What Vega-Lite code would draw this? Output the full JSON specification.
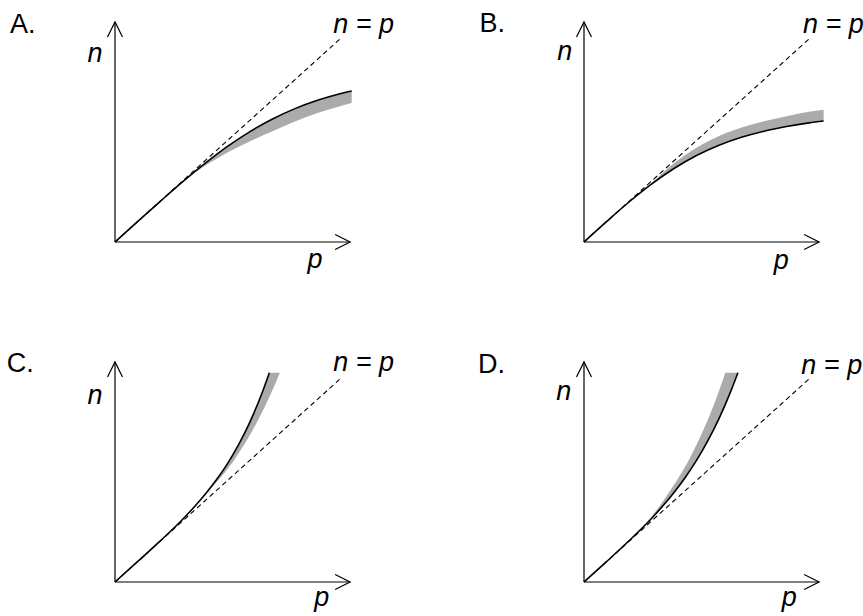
{
"$schema":"https://vega.github.io/schema/vega-lite/v6.json",
"padding":0,
"background":"white",
"datasets":{
"A":[
{"series":"diag","p":0,"n":0},{"series":"diag","p":1,"n":1},
{"series":"curve","p":0,"n":0},{"series":"curve","p":0.1,"n":0.1},{"series":"curve","p":0.2,"n":0.199},{"series":"curve","p":0.3,"n":0.296},{"series":"curve","p":0.4,"n":0.387},{"series":"curve","p":0.5,"n":0.471},{"series":"curve","p":0.6,"n":0.544},{"series":"curve","p":0.7,"n":0.606},{"series":"curve","p":0.8,"n":0.657},{"series":"curve","p":0.9,"n":0.698},{"series":"curve","p":1.0,"n":0.73},{"series":"curve","p":1.052,"n":0.744},
{"series":"band","p":0.3,"n":0.296,"n2":0.296},{"series":"band","p":0.4,"n":0.387,"n2":0.375},{"series":"band","p":0.5,"n":0.471,"n2":0.441},{"series":"band","p":0.6,"n":0.544,"n2":0.496},{"series":"band","p":0.7,"n":0.606,"n2":0.546},{"series":"band","p":0.8,"n":0.657,"n2":0.593},{"series":"band","p":0.9,"n":0.698,"n2":0.635},{"series":"band","p":1.0,"n":0.73,"n2":0.669},{"series":"band","p":1.052,"n":0.744,"n2":0.685}
],
"B":[
{"series":"diag","p":0,"n":0},{"series":"diag","p":1,"n":1},
{"series":"curve","p":0,"n":0},{"series":"curve","p":0.1,"n":0.1},{"series":"curve","p":0.2,"n":0.197},{"series":"curve","p":0.3,"n":0.285},{"series":"curve","p":0.4,"n":0.362},{"series":"curve","p":0.5,"n":0.426},{"series":"curve","p":0.6,"n":0.477},{"series":"curve","p":0.7,"n":0.516},{"series":"curve","p":0.8,"n":0.546},{"series":"curve","p":0.9,"n":0.569},{"series":"curve","p":1.0,"n":0.587},{"series":"curve","p":1.065,"n":0.596},
{"series":"band","p":0.25,"n":0.242,"n2":0.242},{"series":"band","p":0.3,"n":0.285,"n2":0.291},{"series":"band","p":0.4,"n":0.362,"n2":0.388},{"series":"band","p":0.5,"n":0.426,"n2":0.464},{"series":"band","p":0.6,"n":0.477,"n2":0.522},{"series":"band","p":0.7,"n":0.516,"n2":0.564},{"series":"band","p":0.8,"n":0.546,"n2":0.595},{"series":"band","p":0.9,"n":0.569,"n2":0.62},{"series":"band","p":1.0,"n":0.587,"n2":0.641},{"series":"band","p":1.065,"n":0.596,"n2":0.652}
],
"C":[
{"series":"diag","p":0,"n":0},{"series":"diag","p":1,"n":1},
{"series":"curve","p":0,"n":0},{"series":"curve","p":0.1,"n":0.1},{"series":"curve","p":0.2,"n":0.201},{"series":"curve","p":0.3,"n":0.308},{"series":"curve","p":0.35,"n":0.367},{"series":"curve","p":0.4,"n":0.431},{"series":"curve","p":0.45,"n":0.502},{"series":"curve","p":0.5,"n":0.583},{"series":"curve","p":0.55,"n":0.678},{"series":"curve","p":0.6,"n":0.789},{"series":"curve","p":0.65,"n":0.921},{"series":"curve","p":0.686,"n":1.031},
{"series":"band","n":0.404,"p":0.38,"p2":0.38},{"series":"band","n":0.502,"p":0.45,"p2":0.46},{"series":"band","n":0.583,"p":0.5,"p2":0.518},{"series":"band","n":0.678,"p":0.55,"p2":0.575},{"series":"band","n":0.789,"p":0.6,"p2":0.632},{"series":"band","n":0.921,"p":0.65,"p2":0.69},{"series":"band","n":1.031,"p":0.686,"p2":0.733}
],
"D":[
{"series":"diag","p":0,"n":0},{"series":"diag","p":1,"n":1},
{"series":"curve","p":0,"n":0},{"series":"curve","p":0.1,"n":0.1},{"series":"curve","p":0.2,"n":0.203},{"series":"curve","p":0.3,"n":0.313},{"series":"curve","p":0.35,"n":0.374},{"series":"curve","p":0.4,"n":0.441},{"series":"curve","p":0.45,"n":0.515},{"series":"curve","p":0.5,"n":0.599},{"series":"curve","p":0.55,"n":0.695},{"series":"curve","p":0.6,"n":0.805},{"series":"curve","p":0.65,"n":0.933},{"series":"curve","p":0.684,"n":1.031},
{"series":"band","n":0.279,"p":0.27,"p2":0.27},{"series":"band","n":0.374,"p":0.35,"p2":0.336},{"series":"band","n":0.47,"p":0.42,"p2":0.395},{"series":"band","n":0.599,"p":0.5,"p2":0.465},{"series":"band","n":0.716,"p":0.56,"p2":0.517},{"series":"band","n":0.88,"p":0.63,"p2":0.58},{"series":"band","n":1.031,"p":0.684,"p2":0.628}
]
},
"columns":2,
"spacing":{"row":64,"column":75},
"bounds":"flush",
"concat":[
{
"width":394,"height":276,
"data":{"name":"A"},
"layer":[
{"transform":[{"filter":"datum.series === 'band'"}],"mark":{"type":"area","color":"#ababab","opacity":1,"interpolate":"monotone"},"encoding":{"x":{"field":"p","type":"quantitative","scale":{"domain":[-0.5111,1.24],"nice":false,"zero":false}},"y":{"field":"n","type":"quantitative","scale":{"domain":[-0.1675,1.1921],"nice":false,"zero":false}},"y2":{"field":"n2"}}},
{"transform":[{"filter":"datum.series === 'diag'"}],"mark":{"type":"line","color":"#000","strokeWidth":1.1,"strokeDash":[5,3.5]},"encoding":{"x":{"field":"p","type":"quantitative"},"y":{"field":"n","type":"quantitative"}}},
{"transform":[{"filter":"datum.series === 'curve'"}],"mark":{"type":"line","color":"#000","strokeWidth":1.6,"interpolate":"monotone"},"encoding":{"x":{"field":"p","type":"quantitative"},"y":{"field":"n","type":"quantitative"}}},
{"data":{"values":[{}]},"mark":{"type":"rule","color":"#000","strokeWidth":1.2},"encoding":{"x":{"datum":0},"y":{"datum":0},"x2":{"datum":1.045},"y2":{"datum":0}}},
{"data":{"values":[{}]},"mark":{"type":"rule","color":"#000","strokeWidth":1.2},"encoding":{"x":{"datum":0},"y":{"datum":0},"x2":{"datum":0},"y2":{"datum":1.084}}},
{"data":{"values":[{}]},"mark":{"type":"point","shape":"M-2,-1L0,0L-2,1","size":225,"filled":false,"color":"#000","strokeWidth":1.2,"opacity":1},"encoding":{"x":{"datum":1.045},"y":{"datum":0}}},
{"data":{"values":[{}]},"mark":{"type":"point","shape":"M-1,2L0,0L1,2","size":225,"filled":false,"color":"#000","strokeWidth":1.2,"opacity":1},"encoding":{"x":{"datum":0},"y":{"datum":1.084}}},
{"data":{"values":[{"label":"A."}]},"mark":{"type":"text","align":"left"},"encoding":{"text":{"field":"label"},"x":{"datum":-0.467},"y":{"datum":1.032}}},
{"data":{"values":[{"label":"n"}]},"mark":{"type":"text","align":"center","fontStyle":"italic"},"encoding":{"text":{"field":"label"},"x":{"datum":-0.089},"y":{"datum":0.887}}},
{"data":{"values":[{"label":"n = p"}]},"mark":{"type":"text","align":"left","fontStyle":"italic","clip":true},"encoding":{"text":{"field":"label"},"x":{"datum":0.970},"y":{"datum":1.028}}},
{"data":{"values":[{"label":"p"}]},"mark":{"type":"text","align":"center","fontStyle":"italic"},"encoding":{"text":{"field":"label"},"x":{"datum":0.889},"y":{"datum":-0.126}}}
]
},
{
"width":394,"height":276,
"data":{"name":"B"},
"layer":[
{"transform":[{"filter":"datum.series === 'band'"}],"mark":{"type":"area","color":"#ababab","opacity":1,"interpolate":"monotone"},"encoding":{"x":{"field":"p","type":"quantitative","scale":{"domain":[-0.5111,1.24],"nice":false,"zero":false}},"y":{"field":"n","type":"quantitative","scale":{"domain":[-0.1675,1.1921],"nice":false,"zero":false}},"y2":{"field":"n2"}}},
{"transform":[{"filter":"datum.series === 'diag'"}],"mark":{"type":"line","color":"#000","strokeWidth":1.1,"strokeDash":[5,3.5]},"encoding":{"x":{"field":"p","type":"quantitative"},"y":{"field":"n","type":"quantitative"}}},
{"transform":[{"filter":"datum.series === 'curve'"}],"mark":{"type":"line","color":"#000","strokeWidth":1.6,"interpolate":"monotone"},"encoding":{"x":{"field":"p","type":"quantitative"},"y":{"field":"n","type":"quantitative"}}},
{"data":{"values":[{}]},"mark":{"type":"rule","color":"#000","strokeWidth":1.2},"encoding":{"x":{"datum":0},"y":{"datum":0},"x2":{"datum":1.045},"y2":{"datum":0}}},
{"data":{"values":[{}]},"mark":{"type":"rule","color":"#000","strokeWidth":1.2},"encoding":{"x":{"datum":0},"y":{"datum":0},"x2":{"datum":0},"y2":{"datum":1.084}}},
{"data":{"values":[{}]},"mark":{"type":"point","shape":"M-2,-1L0,0L-2,1","size":225,"filled":false,"color":"#000","strokeWidth":1.2,"opacity":1},"encoding":{"x":{"datum":1.045},"y":{"datum":0}}},
{"data":{"values":[{}]},"mark":{"type":"point","shape":"M-1,2L0,0L1,2","size":225,"filled":false,"color":"#000","strokeWidth":1.2,"opacity":1},"encoding":{"x":{"datum":0},"y":{"datum":1.084}}},
{"data":{"values":[{"label":"B."}]},"mark":{"type":"text","align":"left"},"encoding":{"text":{"field":"label"},"x":{"datum":-0.464},"y":{"datum":1.034}}},
{"data":{"values":[{"label":"n"}]},"mark":{"type":"text","align":"center","fontStyle":"italic"},"encoding":{"text":{"field":"label"},"x":{"datum":-0.086},"y":{"datum":0.895}}},
{"data":{"values":[{"label":"n = p"}]},"mark":{"type":"text","align":"left","fontStyle":"italic","clip":true},"encoding":{"text":{"field":"label"},"x":{"datum":0.973},"y":{"datum":1.028}}},
{"data":{"values":[{"label":"p"}]},"mark":{"type":"text","align":"center","fontStyle":"italic"},"encoding":{"text":{"field":"label"},"x":{"datum":0.877},"y":{"datum":-0.134}}}
]
},
{
"width":394,"height":276,
"data":{"name":"C"},
"layer":[
{"transform":[{"filter":"datum.series === 'band'"}],"mark":{"type":"area","orient":"horizontal","color":"#ababab","opacity":1,"interpolate":"monotone"},"encoding":{"x":{"field":"p","type":"quantitative","scale":{"domain":[-0.5111,1.24],"nice":false,"zero":false}},"y":{"field":"n","type":"quantitative","scale":{"domain":[-0.1675,1.1921],"nice":false,"zero":false}},"x2":{"field":"p2"}}},
{"transform":[{"filter":"datum.series === 'diag'"}],"mark":{"type":"line","color":"#000","strokeWidth":1.1,"strokeDash":[5,3.5]},"encoding":{"x":{"field":"p","type":"quantitative"},"y":{"field":"n","type":"quantitative"}}},
{"transform":[{"filter":"datum.series === 'curve'"}],"mark":{"type":"line","color":"#000","strokeWidth":1.6,"interpolate":"monotone"},"encoding":{"x":{"field":"p","type":"quantitative"},"y":{"field":"n","type":"quantitative"}}},
{"data":{"values":[{}]},"mark":{"type":"rule","color":"#000","strokeWidth":1.2},"encoding":{"x":{"datum":0},"y":{"datum":0},"x2":{"datum":1.045},"y2":{"datum":0}}},
{"data":{"values":[{}]},"mark":{"type":"rule","color":"#000","strokeWidth":1.2},"encoding":{"x":{"datum":0},"y":{"datum":0},"x2":{"datum":0},"y2":{"datum":1.084}}},
{"data":{"values":[{}]},"mark":{"type":"point","shape":"M-2,-1L0,0L-2,1","size":225,"filled":false,"color":"#000","strokeWidth":1.2,"opacity":1},"encoding":{"x":{"datum":1.045},"y":{"datum":0}}},
{"data":{"values":[{}]},"mark":{"type":"point","shape":"M-1,2L0,0L1,2","size":225,"filled":false,"color":"#000","strokeWidth":1.2,"opacity":1},"encoding":{"x":{"datum":0},"y":{"datum":1.084}}},
{"data":{"values":[{"label":"C."}]},"mark":{"type":"text","align":"left"},"encoding":{"text":{"field":"label"},"x":{"datum":-0.481},"y":{"datum":1.035}}},
{"data":{"values":[{"label":"n"}]},"mark":{"type":"text","align":"center","fontStyle":"italic"},"encoding":{"text":{"field":"label"},"x":{"datum":-0.089},"y":{"datum":0.879}}},
{"data":{"values":[{"label":"n = p"}]},"mark":{"type":"text","align":"left","fontStyle":"italic","clip":true},"encoding":{"text":{"field":"label"},"x":{"datum":0.970},"y":{"datum":1.04}}},
{"data":{"values":[{"label":"p"}]},"mark":{"type":"text","align":"center","fontStyle":"italic"},"encoding":{"text":{"field":"label"},"x":{"datum":0.919},"y":{"datum":-0.118}}}
]
},
{
"width":394,"height":276,
"data":{"name":"D"},
"layer":[
{"transform":[{"filter":"datum.series === 'band'"}],"mark":{"type":"area","orient":"horizontal","color":"#ababab","opacity":1,"interpolate":"monotone"},"encoding":{"x":{"field":"p","type":"quantitative","scale":{"domain":[-0.5111,1.24],"nice":false,"zero":false}},"y":{"field":"n","type":"quantitative","scale":{"domain":[-0.1675,1.1921],"nice":false,"zero":false}},"x2":{"field":"p2"}}},
{"transform":[{"filter":"datum.series === 'diag'"}],"mark":{"type":"line","color":"#000","strokeWidth":1.1,"strokeDash":[5,3.5]},"encoding":{"x":{"field":"p","type":"quantitative"},"y":{"field":"n","type":"quantitative"}}},
{"transform":[{"filter":"datum.series === 'curve'"}],"mark":{"type":"line","color":"#000","strokeWidth":1.6,"interpolate":"monotone"},"encoding":{"x":{"field":"p","type":"quantitative"},"y":{"field":"n","type":"quantitative"}}},
{"data":{"values":[{}]},"mark":{"type":"rule","color":"#000","strokeWidth":1.2},"encoding":{"x":{"datum":0},"y":{"datum":0},"x2":{"datum":1.045},"y2":{"datum":0}}},
{"data":{"values":[{}]},"mark":{"type":"rule","color":"#000","strokeWidth":1.2},"encoding":{"x":{"datum":0},"y":{"datum":0},"x2":{"datum":0},"y2":{"datum":1.084}}},
{"data":{"values":[{}]},"mark":{"type":"point","shape":"M-2,-1L0,0L-2,1","size":225,"filled":false,"color":"#000","strokeWidth":1.2,"opacity":1},"encoding":{"x":{"datum":1.045},"y":{"datum":0}}},
{"data":{"values":[{}]},"mark":{"type":"point","shape":"M-1,2L0,0L1,2","size":225,"filled":false,"color":"#000","strokeWidth":1.2,"opacity":1},"encoding":{"x":{"datum":0},"y":{"datum":1.084}}},
{"data":{"values":[{"label":"D."}]},"mark":{"type":"text","align":"left"},"encoding":{"text":{"field":"label"},"x":{"datum":-0.471},"y":{"datum":1.03}}},
{"data":{"values":[{"label":"n"}]},"mark":{"type":"text","align":"center","fontStyle":"italic"},"encoding":{"text":{"field":"label"},"x":{"datum":-0.09},"y":{"datum":0.895}}},
{"data":{"values":[{"label":"n = p"}]},"mark":{"type":"text","align":"left","fontStyle":"italic","clip":true},"encoding":{"text":{"field":"label"},"x":{"datum":0.966},"y":{"datum":1.027}}},
{"data":{"values":[{"label":"p"}]},"mark":{"type":"text","align":"center","fontStyle":"italic"},"encoding":{"text":{"field":"label"},"x":{"datum":0.912},"y":{"datum":-0.118}}}
]
}
],
"config":{
"view":{"stroke":null},
"axis":{"disable":true},
"text":{"font":"Liberation Sans","fontSize":27,"baseline":"alphabetic","color":"#000"}
}
}
